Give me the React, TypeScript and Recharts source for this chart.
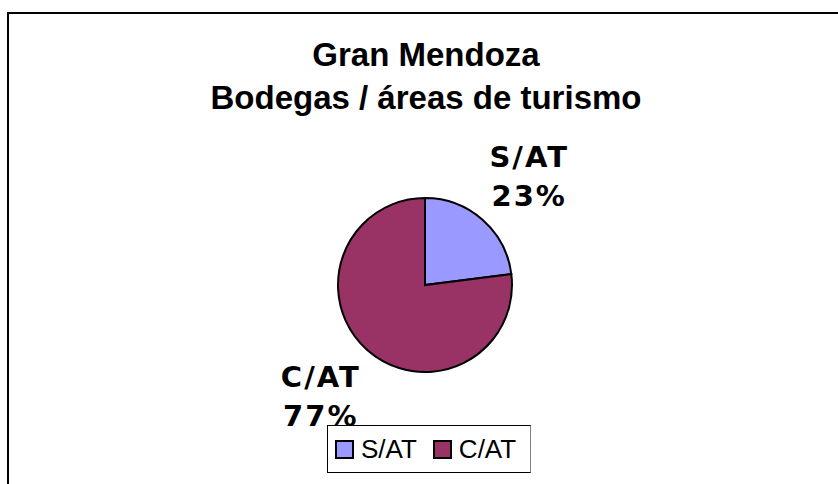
import React from 'react';
import { PieChart, Pie, Cell, Legend } from 'recharts';

const categories = ['S/AT', 'C/AT'];
const values = [23, 77];
const colors = ['#9999FF', '#993366'];
const titleLines = ['Gran Mendoza', 'Bodegas / áreas de turismo'];

const data = categories.map((name, i) => ({ name, value: values[i] }));

const RADIAN = Math.PI / 180;

const renderLabel = (props: any) => {
  const { cx, cy, midAngle, outerRadius, percent, name } = props;
  const r = outerRadius + 60;
  const cos = Math.cos(-midAngle * RADIAN);
  const sin = Math.sin(-midAngle * RADIAN);
  const x = cx + r * cos + (cos >= 0 ? 7 : -7);
  const y = cy + r * sin;
  return (
    <text
      x={x}
      y={y}
      textAnchor="middle"
      fill="#000"
      style={{ fontFamily: '"DejaVu Sans", sans-serif', fontWeight: 'bold', fontSize: 29, letterSpacing: 2 }}
    >
      <tspan x={x} y={y - 8}>{name}</tspan>
      <tspan x={x} y={y + 31}>{`${Math.round(percent * 100)}%`}</tspan>
    </text>
  );
};

const renderLegend = (props: any) => {
  const payload = [...(props.payload || [])].sort(
    (a: any, b: any) => categories.indexOf(a.value) - categories.indexOf(b.value)
  );
  return (
    <div style={{ display: 'flex', alignItems: 'center', height: '100%', paddingLeft: 7 }}>
      {payload.map((entry: any, i: number) => (
        <div key={i} style={{ display: 'flex', alignItems: 'center', marginRight: i === 0 ? 16 : 0 }}>
          <div
            style={{
              width: 19,
              height: 19,
              boxSizing: 'border-box',
              background: entry.color,
              border: '2px solid #000',
              marginRight: 7,
            }}
          />
          <span style={{ fontFamily: '"Liberation Sans", Arial, sans-serif', fontSize: 26, color: '#000', lineHeight: '26px' }}>
            {entry.value}
          </span>
        </div>
      ))}
    </div>
  );
};

export default function App() {
  return (
    <div style={{ position: 'absolute', left: 0, top: 0, width: 838, height: 484, background: '#fff', overflow: 'hidden' }}>
      <div
        style={{
          position: 'absolute',
          left: 7,
          top: 12,
          width: 860,
          height: 500,
          borderTop: '2px solid #000',
          borderLeft: '2px solid #000',
        }}
      />
      <div
        style={{
          position: 'absolute',
          left: 126,
          top: 33,
          width: 600,
          textAlign: 'center',
          fontFamily: '"Liberation Sans", Arial, sans-serif',
          fontWeight: 'bold',
          fontSize: 33,
          lineHeight: '43px',
          color: '#000',
        }}
      >
        {titleLines.map((t, i) => (
          <div key={i}>{t}</div>
        ))}
      </div>
      <div style={{ position: 'absolute', left: 0, top: 0 }}>
        <PieChart width={838} height={484} margin={{ top: 0, right: 0, bottom: 0, left: 0 }}>
          <Pie
            data={data}
            dataKey="value"
            nameKey="name"
            cx={425}
            cy={285}
            outerRadius={87}
            startAngle={90}
            endAngle={-270}
            stroke="#000"
            strokeWidth={2}
            label={renderLabel}
            labelLine={false}
            isAnimationActive={false}
          >
            {data.map((d, i) => (
              <Cell key={d.name} fill={colors[i]} />
            ))}
          </Pie>
          <Legend
            content={renderLegend}
            wrapperStyle={{
              position: 'absolute',
              left: 327,
              top: 425,
              width: 204,
              height: 48,
              border: '1px solid #000',
              borderRightColor: '#808080',
              boxSizing: 'border-box',
              background: '#fff',
            }}
          />
        </PieChart>
      </div>
    </div>
  );
}
